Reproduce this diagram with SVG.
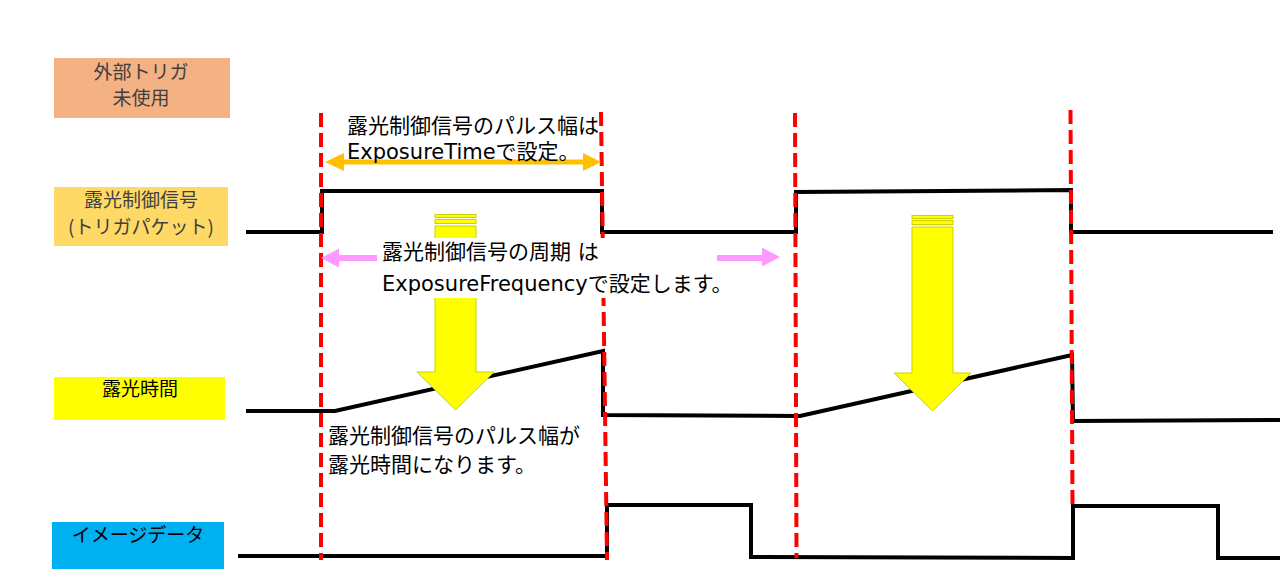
<svg xmlns="http://www.w3.org/2000/svg" width="1280" height="580" viewBox="0 0 1280 580">
<style>
.lbl{font-family:"Noto Sans CJK JP",sans-serif;font-size:19px;text-anchor:middle}
.gray{fill:#404040}
.blk{fill:#000}
.note{font-family:"DejaVu Sans","Noto Sans CJK JP",sans-serif;font-size:21px;fill:#000}
.sig{fill:none;stroke:#000;stroke-width:4;stroke-linejoin:miter}
.cut{fill:none;stroke:#FF0000;stroke-width:4;stroke-dasharray:14 6}
.yarr{fill:#FFFF00;stroke:#CFCF00;stroke-width:1}
</style>
<rect width="1280" height="580" fill="#FFFFFF"/>

<g id="label-external-trigger">
<rect x="54" y="58" width="176" height="60" fill="#F4B183"/>
<text class="lbl gray" x="141" y="79">外部トリガ</text>
<text class="lbl gray" x="141" y="105">未使用</text>
</g>
<g id="label-exposure-control">
<rect x="54" y="187" width="174" height="59" fill="#FFD966"/>
<text class="lbl gray" x="141" y="207">露光制御信号</text>
<text class="lbl gray" x="141" y="234">(トリガパケット)</text>
</g>
<g id="label-exposure-time">
<rect x="54" y="377" width="171" height="43" fill="#FFFF00"/>
<text class="lbl blk" x="140" y="396">露光時間</text>
</g>
<g id="label-image-data">
<rect x="52" y="522" width="172" height="47" fill="#00B0F0"/>
<text class="lbl blk" x="138" y="542">イメージデータ</text>
</g>

<g id="connectors">
<g id="signals">
<polyline class="sig" points="246,232 322,232 322,191 602,191 602,232 796,232 796,192 1071,190 1071,232 1273,232"/>
<polyline class="sig" points="246,411 335,411 603,351 603,415 800,416 1072,355 1073,421 1280,420"/>
<polyline class="sig" points="238,556 607,556 607,505 751,505 751,557 1073,558 1073,506 1218,506 1218,558 1280,558"/>
</g>
<g id="yellow-arrows">
<g id="yellow-arrow-1">
<rect class="yarr" x="435" y="214.5" width="41" height="3"/>
<rect class="yarr" x="435" y="219.5" width="41" height="4"/>
<polygon class="yarr" points="435,226 476,226 476,372 494,372 455.5,410 417,372 435,372"/>
</g>
<g id="yellow-arrow-2" transform="translate(477,1)">
<rect class="yarr" x="435" y="214.5" width="41" height="3"/>
<rect class="yarr" x="435" y="219.5" width="41" height="4"/>
<polygon class="yarr" points="435,226 476,226 476,372 494,372 455.5,410 417,372 435,372"/>
</g>
</g>
<g id="timing-lines">
<line class="cut" x1="321" y1="113" x2="321" y2="560"/>
<line class="cut" x1="601" y1="112" x2="607" y2="560"/>
<line class="cut" x1="795" y1="113" x2="796.5" y2="558"/>
<line class="cut" x1="1070.5" y1="110" x2="1072.5" y2="504"/>
</g>
<g id="period-arrow">
<line x1="336" y1="258" x2="764" y2="258" stroke="#FF99FF" stroke-width="6"/>
<polygon points="321,258 339,248.5 339,267.5" fill="#FF99FF"/>
<polygon points="780,257 762,247.5 762,266.5" fill="#FF99FF"/>
</g>
<rect x="377" y="238" width="340" height="60" fill="#FFFFFF"/>
<g id="pulse-width-arrow">
<line x1="340" y1="162" x2="587" y2="162" stroke="#FFC000" stroke-width="5"/>
<polygon points="325,162 344,153 344,171" fill="#FFC000"/>
<polygon points="601,162 583,153 583,171" fill="#FFC000"/>
</g>
</g>

<g id="note-pulse-width-setting">
<text class="note" x="347" y="133">露光制御信号のパルス幅は</text>
<text class="note" x="347" y="159">ExposureTimeで設定。</text>
</g>
<g id="note-period-setting">
<text class="note" x="382" y="259">露光制御信号の周期 は</text>
<text class="note" x="382" y="291">ExposureFrequencyで設定します。</text>
</g>
<g id="note-exposure">
<text class="note" x="328" y="443">露光制御信号のパルス幅が</text>
<text class="note" x="328" y="472">露光時間になります。</text>
</g>
</svg>
